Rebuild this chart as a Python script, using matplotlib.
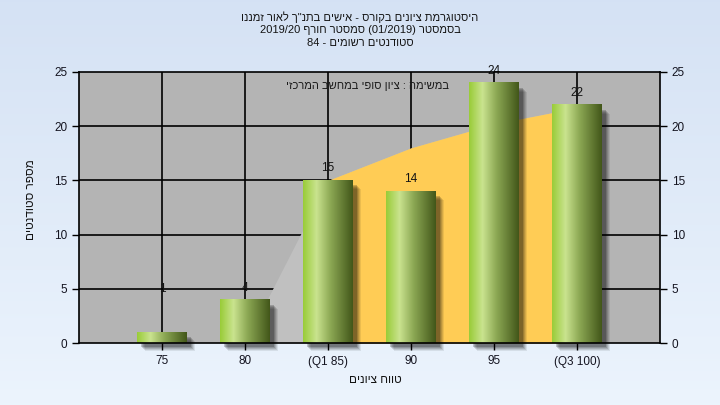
import numpy as np
import matplotlib
matplotlib.use("Agg")
import matplotlib.pyplot as plt
from matplotlib.colors import LinearSegmentedColormap

# ---- data ----
categories = ["75", "80", "(Q1 85)", "90", "95", "(Q3 100)"]
counts = [1, 4, 15, 14, 24, 22]
curve_values = [0, 0, 15, 18, 20.2, 21.7]   # background area series
iqr_start, iqr_end = 2, 5                    # Q1..Q3 category indices

title_lines = [
    'היסטוגרמת ציונים בקורס - אישים בתנ"ך לאור זמננו',
    'בסמסטר (01/2019) סמסטר חורף 2019/20',
    'סטודנטים רשומים - 84',
]
note_text = 'במשימה : ציון סופי במחשב המרכזי'
x_label = 'טווח ציונים'
y_label = 'מספר סטודנטים'

FONT = ['Liberation Sans', 'DejaVu Sans']


def is_heb(s):
    return any('\u0590' <= c <= '\u05FF' for c in s)


def visual(s):
    """Convert logical RTL string to visual left-to-right order."""
    toks = s.split(' ')
    out = []
    for t in reversed(toks):
        if is_heb(t):
            t = t[::-1]
        out.append(t)
    return ' '.join(out)


W, H = 720, 405
fig = plt.figure(figsize=(W / 100, H / 100), dpi=100)

# background gradient
bg = fig.add_axes([0, 0, 1, 1], zorder=-10)
grad = np.linspace(0, 1, 256).reshape(-1, 1)
top_c = np.array([0.835, 0.886, 0.957])
bot_c = np.array([0.925, 0.957, 0.992])
img = top_c[None, None, :] * (1 - grad[..., None]) + bot_c[None, None, :] * grad[..., None]
bg.imshow(img, aspect='auto', extent=[0, 1, 0, 1])
bg.set_axis_off()

x0, x1 = 79, 660
y0, y1 = 72, 343
ax = fig.add_axes([x0 / W, (H - y1) / H, (x1 - x0) / W, (y1 - y0) / H])
ax.set_facecolor('#b4b4b4')
ax.set_xlim(-1, 6)
ax.set_ylim(0, 25)

xs = np.arange(len(categories))

# gridlines (behind areas)
for yv in [5, 10, 15, 20]:
    ax.axhline(yv, color='black', lw=1.2, zorder=1)
for xv in xs:
    ax.axvline(xv, color='black', lw=1.2, zorder=1)

# area series
ax.fill_between(xs, 0, curve_values, color='#c0c0c0', lw=0, zorder=2)
xi = xs[iqr_start:iqr_end + 1]
ax.fill_between(xi, 0, curve_values[iqr_start:iqr_end + 1], color='#ffcc55', lw=0, zorder=3)

# bars with cylinder gradient
cmap = LinearSegmentedColormap.from_list('cyl', [
    (0.0, (0.60, 0.80, 0.22)),
    (0.27, (0.79, 0.89, 0.56)),
    (0.55, (0.55, 0.66, 0.33)),
    (1.0, (0.26, 0.34, 0.10)),
])
bw = 0.6
ppx = 7 / (x1 - x0)     # data units per pixel in x
ppy = 25 / (y1 - y0)    # data units per pixel in y
gimg = np.linspace(0, 1, 200).reshape(1, -1)
for x, v in zip(xs, counts):
    # blurred shadow
    for off, a in [(8, 0.08), (7, 0.10), (6, 0.12), (5, 0.15), (4, 0.2)]:
        ax.add_patch(plt.Rectangle((x - bw / 2 + off * ppx, -off * ppy), bw, v - 1 * ppy,
                                   color='black', alpha=a, lw=0, zorder=4,
                                   clip_on=False))
    ax.imshow(gimg, cmap=cmap, aspect='auto',
              extent=[x - bw / 2, x + bw / 2, 0, v], zorder=5)
    ax.text(x, max(v, 3.9) + 1.1, str(v), ha='center', va='center',
            fontsize=8.5, color='#141414', family=FONT, zorder=7)

ax.set_xlim(-1, 6)
ax.set_ylim(0, 25)

ax.text(2.48, 23.7, visual(note_text), ha='center', va='center',
        fontsize=8, color='#1a1a1a', family=FONT, zorder=7)

for sp in ax.spines.values():
    sp.set_color('black')
    sp.set_linewidth(1.2)
    sp.set_zorder(8)

ax.set_xticks(xs)
ax.set_xticklabels(categories, family=FONT, fontsize=8.5, color='#141420')
ax.set_yticks([0, 5, 10, 15, 20, 25])
ax.tick_params(axis='y', which='both', right=True, labelright=True,
               length=5, width=1, colors='black', labelsize=8.5, labelcolor='#141420')
ax.tick_params(axis='x', length=5, width=1, colors='black', labelcolor='#141420', pad=4)
for lab in ax.get_yticklabels():
    lab.set_family(FONT)

fig.text(375 / W, 1 - 380 / H, visual(x_label), ha='center', va='center',
         fontsize=8.5, family=FONT, color='#141414')
fig.text(31 / W, 1 - 200 / H, visual(y_label), ha='center', va='center',
         rotation=90, fontsize=8.5, family=FONT, color='#141414')

for i, line in enumerate(title_lines):
    fig.text(0.5, 1 - (17 + 13 * i) / H, visual(line), ha='center', va='center',
             fontsize=8, family=FONT, color='#141414')

fig.savefig('out.png', dpi=100)
